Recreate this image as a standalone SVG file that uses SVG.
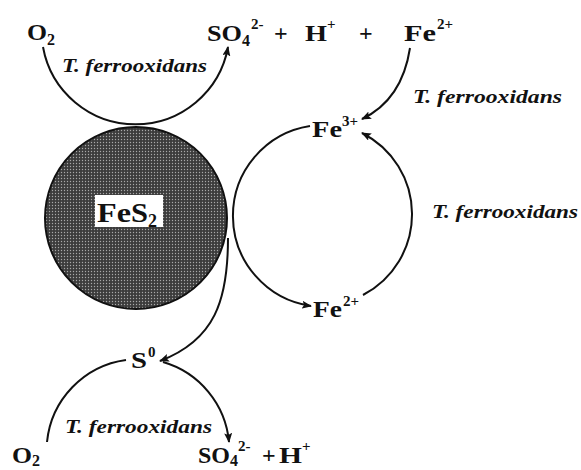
<svg xmlns="http://www.w3.org/2000/svg" width="581" height="470" viewBox="0 0 581 470">
<style>
text{font-family:"Liberation Serif",Tinos,"Times New Roman",Times,serif;font-weight:bold;fill:#111}
.lb{font-size:24px}
.sm{font-size:15px}
.it{font-style:italic;font-size:19px}
.ln{fill:none;stroke:#111;stroke-width:2}
.ar{fill:none;stroke:#111;stroke-width:2;marker-end:url(#ah)}
</style>
<defs>
<marker id="ah" viewBox="0 0 10 8" refX="9" refY="4" markerWidth="10" markerHeight="8" markerUnits="userSpaceOnUse" orient="auto">
<path d="M0,0 L10,4 L0,8 L2,4 Z" fill="#111"/>
</marker>
<pattern id="dots" width="3" height="3" patternUnits="userSpaceOnUse">
<rect width="3" height="3" fill="#3c3c3c"/>
<circle cx="1.5" cy="1.5" r="0.7" fill="#a8a8a8"/>
</pattern>
</defs>
<rect width="581" height="470" fill="#fff"/>
<g id="connectors">
<path class="ar" d="M43,47 A94,94 0 0 0 228,47"/>
<path class="ar" d="M410,48 Q402,100 362,119"/>
<path class="ar" d="M310,126 A91,91 0 0 0 311,306"/>
<path class="ar" d="M363,295 A91,91 0 0 0 362,133"/>
<path class="ar" d="M228,238 C228,300 215,340 160,361"/>
<path class="ln" d="M47,442 A92,92 0 0 1 126,360"/>
<path class="ar" d="M163,362 A92,92 0 0 1 229,442"/>
</g>
<g id="fes2">
<circle cx="136" cy="218" r="91" fill="url(#dots)" stroke="#111" stroke-width="2"/>
<rect x="95" y="195" width="68" height="32" fill="#fff"/>
<text x="97" y="222" style="font-size:28px" textLength="34" lengthAdjust="spacingAndGlyphs">Fe</text>
<text x="131" y="222" style="font-size:28px" textLength="17" lengthAdjust="spacingAndGlyphs">S</text>
<text x="148" y="227" style="font-size:18px">2</text>
</g>
<g id="o2-top">
<text class="lb" x="27" y="40" textLength="20" lengthAdjust="spacingAndGlyphs">O</text>
<text class="sm" x="47" y="45" style="font-size:16px">2</text>
</g>
<g id="products-top">
<text class="lb" x="207" y="41" textLength="35" lengthAdjust="spacingAndGlyphs">SO</text>
<text class="sm" x="242" y="46" style="font-size:16px">4</text>
<text class="sm" x="251" y="29">2-</text>
<text class="lb" x="274" y="41">+</text>
<text class="lb" x="305" y="41" textLength="22" lengthAdjust="spacingAndGlyphs">H</text>
<text class="sm" x="327" y="29">+</text>
<text class="lb" x="359" y="41">+</text>
</g>
<g id="fe2-top">
<text class="lb" x="404" y="41" textLength="32" lengthAdjust="spacingAndGlyphs">Fe</text>
<text class="sm" x="437" y="29">2+</text>
</g>
<g id="fe3">
<text class="lb" x="312" y="137" textLength="30" lengthAdjust="spacingAndGlyphs">Fe</text>
<text class="sm" x="342" y="126">3+</text>
</g>
<g id="fe2-bottom">
<text class="lb" x="313" y="317" textLength="29" lengthAdjust="spacingAndGlyphs">Fe</text>
<text class="sm" x="343" y="306">2+</text>
</g>
<g id="s0">
<text class="lb" x="131" y="368" textLength="16" lengthAdjust="spacingAndGlyphs">S</text>
<text class="sm" x="148" y="357">0</text>
</g>
<g id="o2-bottom">
<text class="lb" x="12" y="463" textLength="20" lengthAdjust="spacingAndGlyphs">O</text>
<text class="sm" x="32" y="466" style="font-size:16px">2</text>
</g>
<g id="products-bottom">
<text class="lb" x="198" y="463" textLength="32" lengthAdjust="spacingAndGlyphs">SO</text>
<text class="sm" x="230" y="466" style="font-size:16px">4</text>
<text class="sm" x="238" y="451">2-</text>
<text class="lb" x="262" y="463">+</text>
<text class="lb" x="279" y="463" textLength="23" lengthAdjust="spacingAndGlyphs">H</text>
<text class="sm" x="302" y="451">+</text>
</g>
<g id="labels">
<text class="it" x="62" y="72" textLength="145" lengthAdjust="spacingAndGlyphs">T. ferrooxidans</text>
<text class="it" x="413" y="103" textLength="149" lengthAdjust="spacingAndGlyphs">T. ferrooxidans</text>
<text class="it" x="432" y="218" textLength="146" lengthAdjust="spacingAndGlyphs">T. ferrooxidans</text>
<text class="it" x="65" y="433" textLength="147" lengthAdjust="spacingAndGlyphs">T. ferrooxidans</text>
</g>
</svg>
